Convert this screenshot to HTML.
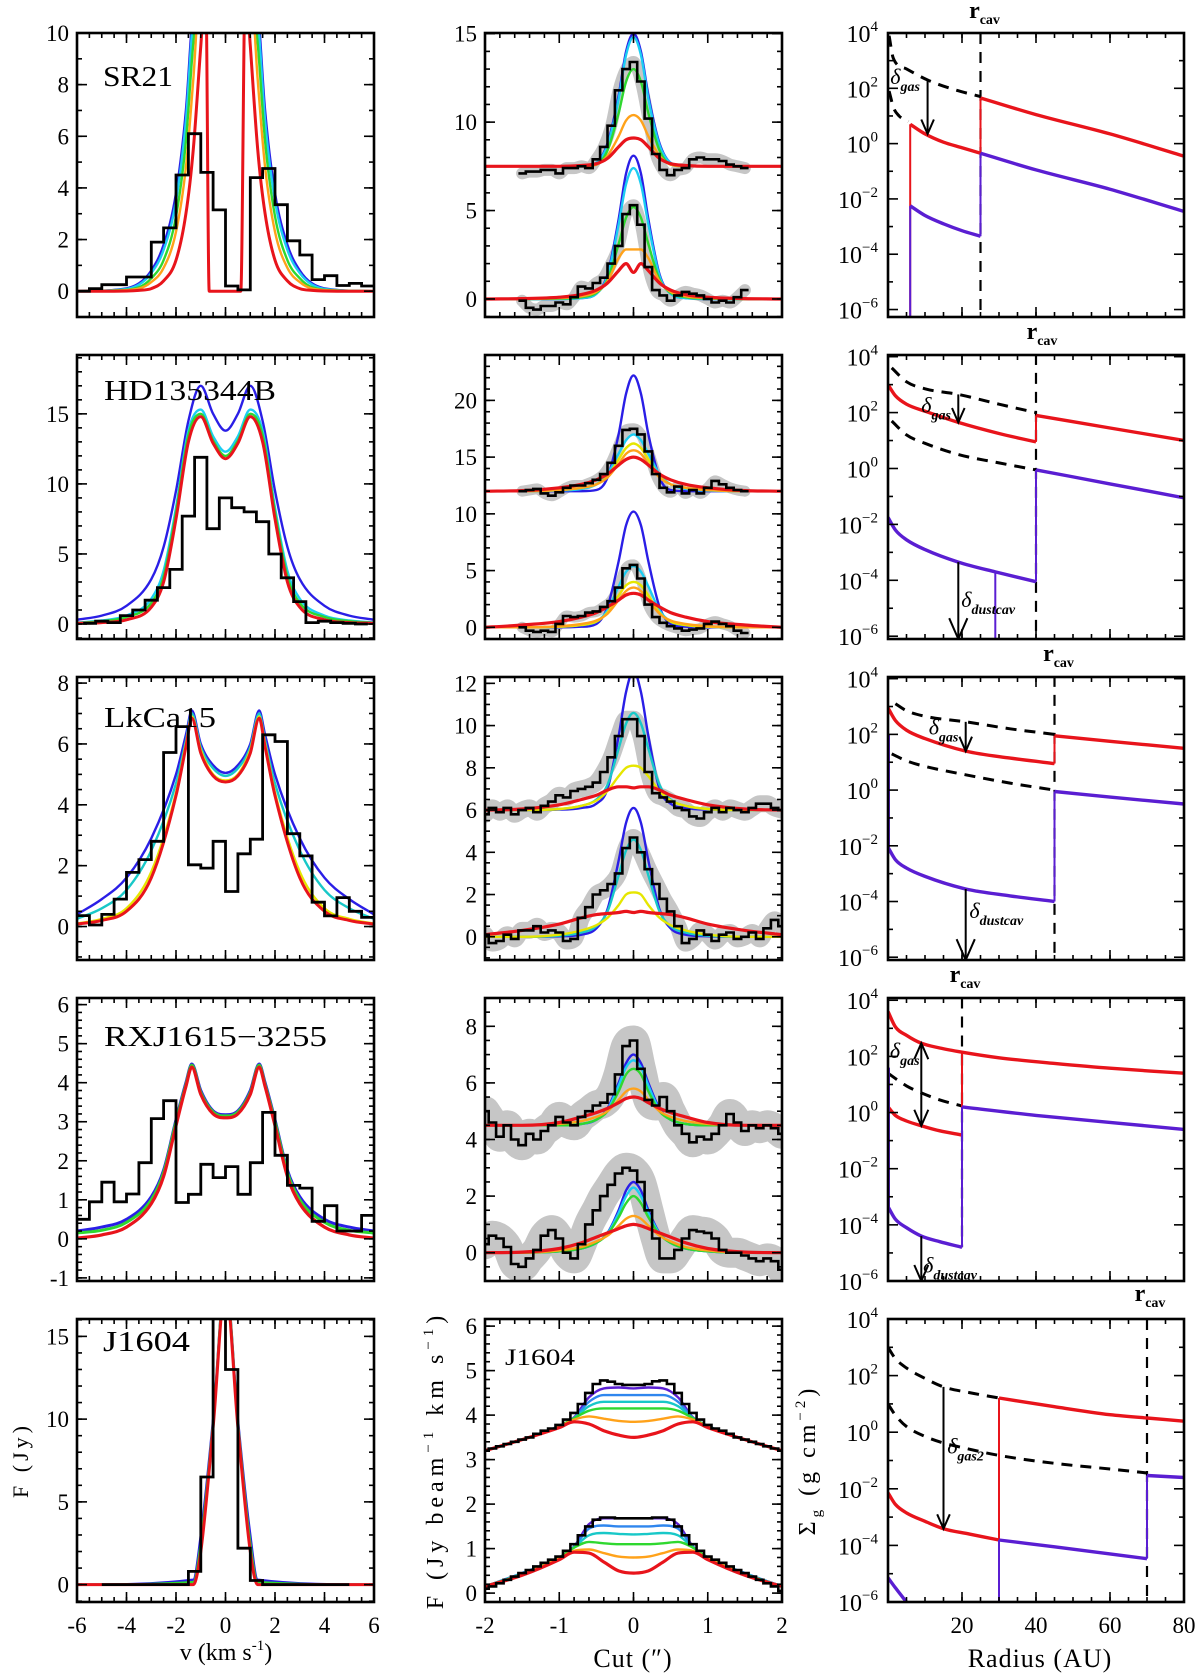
<!DOCTYPE html>
<html><head><meta charset="utf-8"><title>Disk models</title>
<style>
html,body{margin:0;padding:0;background:#fff;}
svg{display:block;font-family:"Liberation Serif",serif;}
</style></head>
<body>
<svg id="fig" width="1200" height="1677" viewBox="0 0 1200 1677" xmlns="http://www.w3.org/2000/svg"></svg>
<script>
// ---------------- DATA ----------------
// Column 1: spectra (velocity km/s vs flux Jy)
const sr21Bins = [-5.75,-5.25,-4.75,-4.25,-3.75,-3.25,-2.75,-2.25,-1.75,-1.25,-0.75,-0.25,0.25,0.75,1.25,1.75,2.25,2.75,3.25,3.75,4.25,4.75,5.25,5.75];
const sr21Obs = [0.0,0.1,0.25,0.25,0.55,0.55,1.9,2.45,4.5,6.1,4.6,3.15,0.2,0.05,4.4,4.75,3.35,1.95,1.4,0.45,0.6,0.22,0.3,0.2];
const sr21V = [-6,-4.5,-3.5,-3,-2.5,-2,-1.6,-1.3,-1,-0.8,-0.66,0,0.62,0.8,1,1.3,1.6,2,2.5,3,3.5,4.5,6];
const sr21Blue = [0,0.05,0.3,0.8,1.8,3.8,7,11,12,12,12,12,12,12,12,11,7,3.8,1.8,0.8,0.3,0.05,0];
const sr21Cyan = [0,0.04,0.25,0.7,1.6,3.5,6.6,10.6,12,12,12,12,12,12,12,10.6,6.6,3.5,1.6,0.7,0.25,0.04,0];
const sr21Green = [0,0.03,0.15,0.5,1.2,2.9,5.8,9.6,12,12,12,12,12,12,12,9.6,5.8,2.9,1.2,0.5,0.15,0.03,0];
const sr21Orange = [0,0.02,0.1,0.35,0.9,2.3,4.8,8.2,12,12,12,12,12,12,12,8.2,4.8,2.3,0.9,0.35,0.1,0.02,0];
const sr21Red = [0,0,0.03,0.1,0.4,1.2,3.0,5.5,9.5,12,0,0,0,12,9.5,5.5,3.0,1.2,0.4,0.1,0.03,0,0];

const hdBins = [-5.5,-5,-4.5,-4,-3.5,-3,-2.5,-2,-1.5,-1,-0.5,0,0.5,1,1.5,2,2.5,3,3.5,4,4.5,5,5.5];
const hdObs = [0.05,0.2,0.1,0.6,1.0,1.7,2.6,3.9,7.7,11.9,6.8,9.0,8.3,8.0,7.3,5.0,3.3,1.6,0.1,0.2,0.1,0.05,0.0];
const hdV = [-6,-5,-4,-3,-2.5,-2,-1.5,-1,-0.5,0,0.5,1,1.5,2,2.5,3,4,5,6];
const hdBlue = [0.3,0.6,1.3,3.2,5.5,9.5,14.5,17,15,13.8,15,17,14.5,9.5,5.5,3.2,1.3,0.6,0.3];
const hdCyan = [0.1,0.25,0.6,1.8,3.8,8.3,13.8,15.3,13.4,12.3,13.4,15.3,13.8,8.3,3.8,1.8,0.6,0.25,0.1];
const hdGreen = [0.08,0.2,0.5,1.5,3.4,8.0,13.5,15.0,13.1,12.0,13.1,15.0,13.5,8.0,3.4,1.5,0.5,0.2,0.08];
const hdRed = [0.05,0.1,0.3,1.2,3.0,7.5,13,14.8,12.9,11.8,12.9,14.8,13,7.5,3.0,1.2,0.3,0.1,0.05];

const lkBins = sr21Bins;
const lkObs = [0.36,0.05,0.4,0.9,1.78,2.2,2.8,5.72,6.57,2.03,1.92,2.8,1.15,2.39,2.87,6.3,6.08,3.05,2.32,0.8,0.35,0.95,0.5,0.3];
const lkV = [-6,-5,-4,-3,-2,-1.6,-1.36,-1,-0.5,0,0.5,1,1.36,1.6,2,3,4,5,6];
const lkBlue = [0.4,0.9,1.6,2.9,5.0,6.3,7.1,6.0,5.3,5.05,5.3,6.0,7.1,6.3,5.0,2.9,1.6,0.9,0.4];
const lkGreen = [0.25,0.6,1.2,2.5,4.7,6.1,7.0,5.9,5.2,4.95,5.2,5.9,7.0,6.1,4.7,2.5,1.2,0.6,0.25];
const lkYellow = [0.1,0.25,0.6,1.8,4.4,6.0,6.9,5.8,5.0,4.8,5.0,5.8,6.9,6.0,4.4,1.8,0.6,0.25,0.1];
const lkRed = [0.08,0.2,0.5,1.6,4.3,5.9,6.85,5.7,4.95,4.75,4.95,5.7,6.85,5.9,4.3,1.6,0.5,0.2,0.08];

const rxBins = sr21Bins;
const rxObs = [0.5,0.95,1.45,0.95,1.15,1.95,3.08,3.54,0.93,1.14,1.91,1.57,1.85,1.14,1.95,3.24,2.14,1.37,1.3,0.45,0.85,0.2,0.2,0.6];
const rxV = [-6,-5,-4,-3,-2.5,-2,-1.6,-1.36,-1,-0.5,0,0.5,1,1.36,1.6,2,2.5,3,4,5,6];
const rxBlue = [0.2,0.3,0.5,1.08,1.76,3.05,4.0,4.48,3.8,3.28,3.18,3.28,3.8,4.48,4.0,3.05,1.76,1.08,0.5,0.3,0.2];
const rxGreen = [0.15,0.22,0.42,1.0,1.7,3.0,3.95,4.45,3.75,3.25,3.15,3.25,3.75,4.45,3.95,3.0,1.7,1.0,0.42,0.22,0.15];
const rxRed = [0.02,0.1,0.3,0.9,1.6,2.9,3.9,4.4,3.7,3.2,3.1,3.2,3.7,4.4,3.9,2.9,1.6,0.9,0.3,0.1,0.02];

const jBins = [-4.75,-4.25,-3.75,-3.25,-2.75,-2.25,-1.75,-1.25,-0.75,-0.25,0.25,0.75,1.25,1.75,2.25,2.75,3.25,3.75,4.25,4.75];
const jObs = [0,0,0,0,0,0,0,0.8,6.5,17,13,2.2,0.25,0,0,0,0,0,0,0];
const jV = [-6,-1.3,-1,-0.5,0,0.5,1,1.3,6];
const jBlue = [0,0.3,3.0,10,18.5,10,3.0,0.3,0];
const jGreen = [0,0.15,2.5,9.8,18.5,9.8,2.5,0.15,0];
const jRed = [0,0,2.0,9.5,18,9.5,2.0,0,0];

// Column 2: cuts (offset arcsec vs flux)
const cutX = [-2,-1.5,-1,-0.7,-0.5,-0.35,-0.2,-0.1,0,0.1,0.2,0.35,0.5,0.7,1,1.5,2];
const obsX31 = [-1.5,-1.4,-1.3,-1.2,-1.1,-1,-0.9,-0.8,-0.7,-0.6,-0.5,-0.4,-0.3,-0.2,-0.1,0,0.1,0.2,0.3,0.4,0.5,0.6,0.7,0.8,0.9,1,1.1,1.2,1.3,1.4,1.5];
const obsX41 = [-2,-1.9,-1.8,-1.7,-1.6,-1.5,-1.4,-1.3,-1.2,-1.1,-1,-0.9,-0.8,-0.7,-0.6,-0.5,-0.4,-0.3,-0.2,-0.1,0,0.1,0.2,0.3,0.4,0.5,0.6,0.7,0.8,0.9,1,1.1,1.2,1.3,1.4,1.5,1.6,1.7,1.8,1.9,2];

const u1Obs = [7.1,7.2,7.2,7.3,7.3,7.1,7.4,7.4,7.5,7.4,7.9,8.6,9.8,11.8,13.0,13.4,12.3,10.2,8.2,7.3,7.0,7.3,7.4,7.9,8.0,7.9,7.9,7.8,7.6,7.5,7.4];
const l1Obs = [-0.1,-0.5,-0.6,-0.4,-0.4,-0.2,-0.3,0.1,0.7,0.6,0.9,1.2,2.0,3.0,4.8,5.3,4.2,1.8,0.5,0.2,-0.1,0.2,0.4,0.3,0.2,0.0,-0.2,-0.1,-0.2,0.1,0.5];
const u1Blue = [7.5,7.5,7.5,7.5,7.7,8.8,11.5,14.0,15.0,14.0,11.5,8.8,7.7,7.5,7.5,7.5,7.5];
const u1Cyan = [7.5,7.5,7.5,7.5,7.7,8.7,11.3,13.8,14.8,13.8,11.3,8.7,7.7,7.5,7.5,7.5,7.5];
const u1Green = [7.5,7.5,7.5,7.5,7.6,8.4,10.5,12.3,13.0,12.3,10.5,8.4,7.6,7.5,7.5,7.5,7.5];
const u1Orange = [7.5,7.5,7.5,7.5,7.6,8.1,9.2,10.1,10.4,10.1,9.2,8.1,7.6,7.5,7.5,7.5,7.5];
const u1Red = [7.5,7.5,7.5,7.55,7.65,7.95,8.6,9.0,9.1,9.0,8.6,7.95,7.65,7.55,7.5,7.5,7.5];
const l1Blue = [0,0,0,0.05,0.3,1.4,4.5,7.1,8.1,7.1,4.5,1.4,0.3,0.05,0,0,0];
const l1Cyan = [0,0,0,0.05,0.3,1.3,4.2,6.5,7.4,6.5,4.2,1.3,0.3,0.05,0,0,0];
const l1Green = [0,0,0.02,0.1,0.35,1.1,3.1,4.6,5.2,4.6,3.1,1.1,0.35,0.1,0.02,0,0];
const l1Orange = [0,0,0.05,0.15,0.4,1.0,2.3,2.8,2.8,2.8,2.3,1.0,0.4,0.15,0.05,0,0];
const l1Red = [0,0.02,0.1,0.25,0.5,0.9,1.6,2.0,1.5,2.0,1.6,0.9,0.5,0.25,0.1,0.02,0];

const u2Obs = [12.0,12.1,12.2,11.8,11.6,11.9,12.3,12.5,12.5,12.7,13.0,13.5,14.5,16.0,17.4,17.5,17.0,15.5,13.5,12.3,11.9,12.4,11.8,12.1,11.8,12.3,12.9,12.6,12.3,12.1,12.0];
const l2Obs = [0.0,-0.3,-0.4,-0.3,-0.4,0.3,1.0,0.9,1.0,1.3,1.4,1.8,2.3,3.5,5.2,5.5,4.3,2.0,0.9,0.4,0.1,-0.1,-0.3,-0.2,-0.1,0.3,0.5,0.3,0.1,-0.3,-0.5];
const u2Blue = [12,12,12,12,12.1,13.2,17,20.6,22.2,20.6,17,13.2,12.1,12,12,12,12];
const u2Cyan = [12,12,12.05,12.2,12.6,13.5,15.3,16.5,17.0,16.5,15.3,13.5,12.6,12.2,12.05,12,12];
const u2Green = [12,12,12.1,12.3,12.6,13.3,14.8,15.8,16.2,15.8,14.8,13.3,12.6,12.3,12.1,12,12];
const u2Orange = [12,12,12.1,12.3,12.6,13.2,14.4,15.3,15.6,15.3,14.4,13.2,12.6,12.3,12.1,12,12];
const u2Red = [12,12.05,12.3,12.6,13.0,13.5,14.3,14.8,15.0,14.8,14.3,13.5,13.0,12.6,12.3,12.05,12];
const l2Blue = [0,0,0,0.05,0.3,1.8,5.8,9.0,10.2,9.0,5.8,1.8,0.3,0.05,0,0,0];
const l2Cyan = [0,0,0.05,0.2,0.5,1.5,3.6,4.9,5.4,4.9,3.6,1.5,0.5,0.2,0.05,0,0];
const l2Green = [0,0,0.05,0.2,0.5,1.3,2.8,3.7,4.0,3.7,2.8,1.3,0.5,0.2,0.05,0,0];
const l2Orange = [0,0,0.1,0.3,0.6,1.2,2.4,3.2,3.5,3.2,2.4,1.2,0.6,0.3,0.1,0,0];
const l2Red = [0,0.2,0.5,0.9,1.3,1.8,2.4,2.85,3.0,2.85,2.4,1.8,1.3,0.9,0.5,0.2,0];

const u3Obs = [5.8,6.1,5.9,6.1,5.8,6.0,6.1,5.9,6.2,6.4,6.7,6.6,6.9,7.0,7.1,7.3,7.8,8.5,9.5,10.3,10.3,9.5,7.8,6.8,6.6,6.4,6.1,6.0,5.7,5.6,5.9,6.1,5.9,6.1,6.0,5.9,6.1,6.3,6.3,6.1,6.0];
const l3Obs = [0.1,-0.3,-0.2,0.1,-0.1,0.3,0.3,0.5,0.2,0.3,0.2,-0.2,-0.1,0.9,1.4,2.0,2.2,2.5,3.0,4.2,4.7,4.0,3.2,2.5,1.8,1.2,0.5,-0.3,-0.1,0.3,0.1,-0.2,0.1,0.2,-0.1,0.0,0.2,-0.1,0.4,0.8,0.5];
const u3Blue = [6,6,6.02,6.1,6.3,7.0,9.5,11.6,12.6,11.6,9.5,7.0,6.3,6.1,6.02,6,6];
const u3Green = [6,6,6.05,6.2,6.5,7.2,8.9,10.1,10.6,10.1,8.9,7.2,6.5,6.2,6.05,6,6];
const u3Yellow = [6,6,6.05,6.2,6.45,6.9,7.6,8.0,8.1,8.0,7.6,6.9,6.45,6.2,6.05,6,6];
const u3Red = [6.0,6.05,6.25,6.5,6.7,6.95,7.1,7.1,7.05,7.1,7.1,6.95,6.7,6.5,6.25,6.05,6.0];
const l3Blue = [0,0,0.02,0.1,0.4,1.3,3.6,5.4,6.1,5.4,3.6,1.3,0.4,0.1,0.02,0,0];
const l3Green = [0,0,0.05,0.2,0.5,1.2,2.9,4.1,4.6,4.1,2.9,1.2,0.5,0.2,0.05,0,0];
const l3Yellow = [0,0,0.1,0.3,0.55,0.9,1.5,2.0,2.1,2.0,1.5,0.9,0.55,0.3,0.1,0,0];
const l3Red = [0.1,0.3,0.6,0.9,1.05,1.1,1.15,1.2,1.15,1.2,1.15,1.1,1.05,0.9,0.6,0.3,0.1];

const u4Obs = [5.0,4.6,4.1,4.5,4.0,3.8,4.2,4.0,4.3,4.5,4.8,4.6,4.5,4.8,5.0,5.2,5.3,5.6,6.3,7.3,7.5,6.5,5.4,5.2,5.5,5.0,4.5,4.2,3.9,4.1,4.0,4.2,4.5,4.9,4.6,4.3,4.5,4.4,4.5,4.4,4.2];
const l4Obs = [0.3,0.6,0.5,0.2,-0.4,-0.5,-0.2,0.1,0.6,0.8,0.5,0.0,-0.2,0.3,1.0,1.5,2.0,2.4,2.8,3.0,2.9,2.5,1.5,0.5,-0.2,-0.2,0.1,0.5,0.8,0.75,0.7,0.5,0.1,0.0,0.0,-0.1,-0.2,-0.3,-0.2,-0.3,-0.6];
const u4Blue = [4.5,4.5,4.5,4.55,4.7,5.1,6.0,6.7,7.0,6.7,6.0,5.1,4.7,4.55,4.5,4.5,4.5];
const u4Cyan = [4.5,4.5,4.5,4.55,4.7,5.05,5.9,6.55,6.8,6.55,5.9,5.05,4.7,4.55,4.5,4.5,4.5];
const u4Green = [4.5,4.5,4.5,4.55,4.7,5.0,5.7,6.3,6.5,6.3,5.7,5.0,4.7,4.55,4.5,4.5,4.5];
const u4Orange = [4.5,4.5,4.55,4.65,4.8,5.0,5.4,5.7,5.8,5.7,5.4,5.0,4.8,4.65,4.55,4.5,4.5];
const u4Red = [4.5,4.5,4.6,4.8,4.95,5.1,5.3,5.45,5.5,5.45,5.3,5.1,4.95,4.8,4.6,4.5,4.5];
const l4Blue = [0,0,0.05,0.15,0.35,0.7,1.5,2.2,2.5,2.2,1.5,0.7,0.35,0.15,0.05,0,0];
const l4Cyan = [0,0,0.05,0.15,0.35,0.68,1.4,2.0,2.3,2.0,1.4,0.68,0.35,0.15,0.05,0,0];
const l4Green = [0,0,0.05,0.15,0.35,0.65,1.25,1.75,2.0,1.75,1.25,0.65,0.35,0.15,0.05,0,0];
const l4Orange = [0,0,0.08,0.2,0.4,0.6,0.95,1.2,1.3,1.2,0.95,0.6,0.4,0.2,0.08,0,0];
const l4Red = [0,0.02,0.15,0.35,0.55,0.7,0.85,0.95,1.0,0.95,0.85,0.7,0.55,0.35,0.15,0.02,0];

const cut5X = [-2,-1.5,-1,-0.8,-0.6,-0.4,-0.2,0,0.2,0.4,0.6,0.8,1,1.5,2];
const u5Obs = [3.2,3.25,3.3,3.35,3.4,3.45,3.5,3.58,3.65,3.7,3.78,3.9,4.05,4.25,4.5,4.7,4.78,4.75,4.7,4.68,4.68,4.68,4.7,4.76,4.78,4.7,4.5,4.25,4.05,3.9,3.78,3.7,3.65,3.58,3.5,3.45,3.4,3.35,3.3,3.25,3.2];
const l5Obs = [0.1,0.15,0.22,0.3,0.37,0.45,0.52,0.6,0.68,0.75,0.82,0.95,1.1,1.3,1.5,1.65,1.7,1.7,1.68,1.68,1.68,1.68,1.68,1.7,1.7,1.65,1.5,1.3,1.1,0.95,0.82,0.75,0.68,0.6,0.52,0.45,0.37,0.3,0.22,0.15,0.05];
const u5Purple = [3.2,3.45,3.76,3.95,4.4,4.6,4.62,4.6,4.62,4.6,4.4,3.95,3.76,3.45,3.2];
const u5Blue = [3.2,3.45,3.76,3.94,4.3,4.45,4.45,4.45,4.45,4.45,4.3,3.94,3.76,3.45,3.2];
const u5Cyan = [3.2,3.45,3.75,3.93,4.2,4.3,4.3,4.3,4.3,4.3,4.2,3.93,3.75,3.45,3.2];
const u5Green = [3.2,3.45,3.75,3.93,4.1,4.15,4.15,4.15,4.15,4.15,4.1,3.93,3.75,3.45,3.2];
const u5Orange = [3.2,3.45,3.74,3.9,3.97,3.92,3.87,3.85,3.87,3.92,3.97,3.9,3.74,3.45,3.2];
const u5Red = [3.2,3.45,3.72,3.85,3.8,3.65,3.55,3.5,3.55,3.65,3.8,3.85,3.72,3.45,3.2];
const l5Purple = [0.15,0.45,0.8,1.05,1.55,1.68,1.68,1.68,1.68,1.68,1.55,1.05,0.8,0.45,0.15];
const l5Blue = [0.15,0.45,0.8,1.04,1.45,1.52,1.5,1.5,1.5,1.52,1.45,1.04,0.8,0.45,0.15];
const l5Cyan = [0.15,0.44,0.8,1.03,1.3,1.35,1.33,1.32,1.33,1.35,1.3,1.03,0.8,0.44,0.15];
const l5Green = [0.15,0.43,0.8,1.02,1.15,1.12,1.1,1.1,1.1,1.12,1.15,1.02,0.8,0.43,0.15];
const l5Orange = [0.15,0.42,0.78,0.95,0.98,0.9,0.82,0.8,0.82,0.9,0.98,0.95,0.78,0.42,0.15];
const l5Red = [0.15,0.4,0.75,0.92,0.9,0.7,0.5,0.45,0.5,0.7,0.9,0.92,0.75,0.4,0.15];

// Column 3: surface density (radius AU vs log10 Sigma)
const sr21Rcav = 25;
const sr21DashR = [0.3,1.4,5,10.7,18,25];     const sr21DashS = [3.9,3.1,2.7,2.3,1.95,1.7];
const sr21Dash2R = [0.3,1.5,3,5.5];            const sr21Dash2S = [1.9,1.3,1.0,0.8];
const sr21RedInR = [6,10,15,20,25];            const sr21RedInS = [0.7,0.35,0.05,-0.15,-0.35];
const sr21RedOutR = [25,40,60,80];             const sr21RedOutS = [1.65,1.05,0.35,-0.45];
const sr21PurInR = [6,10,15,20,25];            const sr21PurInS = [-2.25,-2.6,-2.9,-3.15,-3.35];
const sr21PurOutR = [25,40,60,80];             const sr21PurOutS = [-0.35,-0.95,-1.65,-2.45];

const hdRcav = 40;
const hdRedInR = [0,2,5,10,19,30,40];          const hdRedInS = [3.0,2.6,2.3,2.05,1.65,1.25,0.95];
const hdRedOutR = [40,60,80];                  const hdRedOutS = [1.9,1.45,1.0];
const hdDashR = [1,5,10,19,30,40];             const hdDashS = [3.6,3.1,2.85,2.65,2.3,2.0];
const hdDash2R = [1,5,10,19,30,40];            const hdDash2S = [1.7,1.2,0.9,0.5,0.2,-0.05];
const hdPurOutR = [40,60,80];                  const hdPurOutS = [-0.05,-0.55,-1.05];
const hdPurInR = [0,2,5,10,19,29,40];          const hdPurInS = [-1.75,-2.2,-2.55,-2.9,-3.35,-3.7,-4.05];

const lkRcav = 45;
const lkRedInR = [0,2,5,10,21,33,45];          const lkRedInS = [2.95,2.5,2.15,1.85,1.4,1.15,0.95];
const lkRedOutR = [45,60,80];                  const lkRedOutS = [1.95,1.75,1.5];
const lkDashR = [2,5,10,21,33,45];             const lkDashS = [3.1,2.85,2.65,2.45,2.2,2.0];
const lkDash2R = [1,5,10,21,33,45];            const lkDash2S = [1.3,1.05,0.85,0.55,0.25,0.0];
const lkPurOutR = [45,60,80];                  const lkPurOutS = [-0.05,-0.25,-0.5];
const lkPurInR = [0,2,5,10,21,33,45];          const lkPurInS = [-2.05,-2.5,-2.8,-3.1,-3.55,-3.8,-4.0];

const rxRcav = 20;
const rxRedR = [0,2,5,9,14,20,30,45,60,80];    const rxRedS = [3.6,3.05,2.75,2.47,2.3,2.15,1.95,1.75,1.58,1.4];
const rxRed2R = [0,2,5,9,14,20];               const rxRed2S = [0.2,-0.1,-0.3,-0.47,-0.65,-0.8];
const rxPurOutR = [20,40,60,80];               const rxPurOutS = [0.2,-0.1,-0.35,-0.6];
const rxDashR = [0,5,9,14,20];                 const rxDashS = [1.4,0.95,0.7,0.45,0.23];
const rxPurInR = [0,2,5,9,14,20];              const rxPurInS = [-3.35,-3.8,-4.1,-4.4,-4.6,-4.8];

const jRcav = 70;  const jRin = 30;
const jDashR = [0,2,5,10,15,22,30];            const jDashS = [3.0,2.6,2.27,1.9,1.6,1.4,1.21];
const jRedOutR = [30,45,60,70,80];             const jRedOutS = [1.21,0.9,0.62,0.5,0.39];
const jDash2R = [0,2,5,10,15,22,30,45,60,70];  const jDash2S = [1.0,0.6,0.2,-0.15,-0.38,-0.6,-0.82,-1.1,-1.3,-1.44];
const jPurOutR = [70,80];                      const jPurOutS = [-1.53,-1.6];
const jRedInR = [0,2,5,10,15,22,30];           const jRedInS = [-2.14,-2.55,-2.85,-3.15,-3.41,-3.6,-3.81];
const jPurMidR = [30,45,60,70];                const jPurMidS = [-3.81,-4.05,-4.3,-4.47];
const jPurLowR = [0,2,5];                      const jPurLowS = [-5.14,-5.5,-6.0];

// ---------------- DRAWING ----------------
const NS = "http://www.w3.org/2000/svg";
const svg = document.getElementById('fig');
function mk(tag, attrs, parent){
  const e = document.createElementNS(NS, tag);
  for (const k in attrs) e.setAttribute(k, attrs[k]);
  (parent || svg).appendChild(e);
  return e;
}
const BL="#2a1ee6", CY="#1ccdf2", GR="#2fd82f", YE="#e6e600", OR="#ffa21a", RD="#e8141b", PU="#5a1ed2", LB="#2f86ee", TL="#18c8c8";
const COLS = [[77,374],[485,782],[888,1184]];
const ROWS = [[33,317],[355,639],[677,960],[998,1281],[1319,1602]];
let clipN = 0;
function panel(c, r, xr, yr, log, name){
  const p = {x0:COLS[c][0], x1:COLS[c][1], y0:ROWS[r][0], y1:ROWS[r][1], xmin:xr[0], xmax:xr[1], ymin:yr[0], ymax:yr[1], log:log};
  p.sx = v => p.x0 + (v - p.xmin) / (p.xmax - p.xmin) * (p.x1 - p.x0);
  p.sy = v => p.y1 - (v - p.ymin) / (p.ymax - p.ymin) * (p.y1 - p.y0);
  const id = 'clip' + (clipN++);
  const cp = mk('clipPath', {id:id});
  mk('rect', {x:p.x0, y:p.y0, width:p.x1-p.x0, height:p.y1-p.y0}, cp);
  p.g = mk('g', {'clip-path':'url(#'+id+')'});
  
  
  p.name = name;
  return p;
}
function monoPath(px, py){
  const n = px.length;
  if (n < 2) return '';
  const d = [], m = new Array(n);
  for (let k=0;k<n-1;k++) d.push((py[k+1]-py[k])/(px[k+1]-px[k]));
  m[0]=d[0]; m[n-1]=d[n-2];
  for (let k=1;k<n-1;k++) m[k] = (d[k-1]*d[k] <= 0) ? 0 : (d[k-1]+d[k])/2;
  for (let k=0;k<n-1;k++){
    if (d[k]===0){ m[k]=0; m[k+1]=0; continue; }
    const a=m[k]/d[k], b=m[k+1]/d[k], s=a*a+b*b;
    if (s>9){ const t=3/Math.sqrt(s); m[k]=t*a*d[k]; m[k+1]=t*b*d[k]; }
  }
  let s = 'M'+px[0].toFixed(1)+','+py[0].toFixed(1);
  for (let k=0;k<n-1;k++){
    const h = px[k+1]-px[k];
    s += ' C'+(px[k]+h/3).toFixed(1)+','+(py[k]+m[k]*h/3).toFixed(1)+' '+(px[k+1]-h/3).toFixed(1)+','+(py[k+1]-m[k+1]*h/3).toFixed(1)+' '+px[k+1].toFixed(1)+','+py[k+1].toFixed(1);
  }
  return s;
}
function curve(p, xs, ys, color, sw, name, dash){
  const e = mk('path', {d:monoPath(xs.map(p.sx), ys.map(p.sy)), fill:'none', stroke:color, 'stroke-width':sw, 'stroke-linejoin':'round'}, p.g);
  if (dash) e.setAttribute('stroke-dasharray', dash);
  
  
  return e;
}
function band(p, xs, ys, w, name){
  const e = mk('path', {d:monoPath(xs.map(p.sx), ys.map(p.sy)), fill:'none', stroke:'#c6c6c6', 'stroke-width':w, 'stroke-linejoin':'round', 'stroke-linecap':'round'}, p.g);
  
  
}
function steps(p, centers, vals, color, sw, name){
  const w = centers.length > 1 ? centers[1]-centers[0] : 0.5;
  let s = '';
  for (let i=0;i<centers.length;i++){
    const xa = p.sx(centers[i]-w/2), xb = p.sx(centers[i]+w/2), y = p.sy(vals[i]);
    s += (i===0 ? 'M' : 'L') + xa.toFixed(1)+','+y.toFixed(1)+' L'+xb.toFixed(1)+','+y.toFixed(1)+' ';
  }
  const e = mk('path', {d:s, fill:'none', stroke:color, 'stroke-width':sw, 'stroke-linejoin':'miter'}, p.g);
  
  
}
function vline(p, x, ya, yb, color, sw, name, dash){
  const e = mk('line', {x1:p.sx(x), x2:p.sx(x), y1:p.sy(ya), y2:p.sy(yb), stroke:color, 'stroke-width':sw}, p.g);
  if (dash) e.setAttribute('stroke-dasharray', dash);
  
  
}
function arrow(p, x, ya, yb, name, head, both){
  const g = mk('g', {stroke:'#000', 'stroke-width':2, fill:'none'}, p.g);
  
  
  const X = p.sx(x), A = p.sy(ya), B = p.sy(yb);
  mk('line', {x1:X, x2:X, y1:A, y2:B}, g);
  const h = head || 9, dir = B > A ? 1 : -1;
  mk('polyline', {points:(X-h*0.7)+','+(B-dir*h*1.6)+' '+X+','+B+' '+(X+h*0.7)+','+(B-dir*h*1.6)}, g);
  if (both) mk('polyline', {points:(X-h*0.7)+','+(A+dir*h*1.6)+' '+X+','+A+' '+(X+h*0.7)+','+(A+dir*h*1.6)}, g);
}
function txt(x, y, str, size, anchor, name, extra){
  const e = mk('text', Object.assign({x:x, y:y, 'font-size':size, 'text-anchor':anchor||'start', fill:'#000'}, extra||{}));
  e.textContent = str;
  
  
  return e;
}
function range(a, b, st){ const o=[]; for (let v=a; v<=b+1e-9; v+=st) o.push(Math.round(v*1000)/1000); return o; }
function axes(p, xMaj, xMin, yMaj, yMin, yLabels, xLabels){
  const g = mk('g', {stroke:'#000', 'stroke-width':1.6});
  
  
  const tick = (x1,y1,x2,y2) => mk('line', {x1:x1,y1:y1,x2:x2,y2:y2}, g);
  xMin.forEach(v => { const X=p.sx(v); tick(X,p.y1,X,p.y1-5); tick(X,p.y0,X,p.y0+5); });
  xMaj.forEach(v => { const X=p.sx(v); tick(X,p.y1,X,p.y1-10); tick(X,p.y0,X,p.y0+10); });
  yMin.forEach(v => { const Y=p.sy(v); tick(p.x0,Y,p.x0+5,Y); tick(p.x1,Y,p.x1-5,Y); });
  yMaj.forEach(v => { const Y=p.sy(v); tick(p.x0,Y,p.x0+10,Y); tick(p.x1,Y,p.x1-10,Y); });
  const f = mk('rect', {x:p.x0, y:p.y0, width:p.x1-p.x0, height:p.y1-p.y0, fill:'none', stroke:'#000', 'stroke-width':2.6});
  
  
  if (yLabels){
    yMaj.forEach(v => {
      if (p.log){
        const t = txt(p.x0-10, p.sy(v)+9, '10', 24, 'end', p.name+'-y-tick-label');
        const sup = mk('tspan', {'font-size':15, dy:-11}, t); sup.textContent = String(v).replace('-', '\u2212');
      } else {
        txt(p.x0-8, p.sy(v)+8, String(v), 23, 'end', p.name+'-y-tick-label', {transform:'', 'font-stretch':'condensed'});
      }
    });
  }
  if (xLabels){
    xLabels.forEach(v => txt(p.sx(v), 1633, String(v), 23, 'middle', p.name+'-x-tick-label'));
  }
}
function starName(x, y, s, w, name){
  txt(x, y, s, 28, 'start', name, {textLength:w, lengthAdjust:'spacingAndGlyphs'});
}

// ----- Column 1 -----
const c1x = [-6,6];
const c1xMaj = range(-6,6,2), c1xMin = range(-6,6,0.5);
let p;
p = panel(0,0,c1x,[-1,10],false,'sr21-spectrum');
[[sr21Blue,BL],[sr21Cyan,CY],[sr21Green,GR],[sr21Orange,OR],[sr21Red,RD]].forEach((s,i)=>curve(p, sr21V, s[0], s[1], i===4?3:2.4, 'sr21-model-'+i));
steps(p, sr21Bins, sr21Obs, '#000', 2.8, 'sr21-observed-spectrum');
axes(p, c1xMaj, c1xMin, range(0,10,2), range(-1,10,1), true, null);
starName(103, 86, 'SR21', 70, 'sr21-label');

p = panel(0,1,c1x,[-1.07,19.2],false,'hd135344b-spectrum');
[[hdBlue,BL],[hdCyan,CY],[hdGreen,GR],[hdRed,RD]].forEach((s,i)=>curve(p, hdV, s[0], s[1], i===3?3:2.4, 'hd135344b-model-'+i));
steps(p, hdBins, hdObs, '#000', 2.8, 'hd135344b-observed-spectrum');
axes(p, c1xMaj, c1xMin, range(0,15,5), range(-1,19,1), true, null);
starName(104, 400, 'HD135344B', 172, 'hd135344b-label');

p = panel(0,2,c1x,[-1.1,8.2],false,'lkca15-spectrum');
[[lkBlue,BL],[lkGreen,TL],[lkYellow,YE],[lkRed,RD]].forEach((s,i)=>curve(p, lkV, s[0], s[1], i===3?3:2.4, 'lkca15-model-'+i));
steps(p, lkBins, lkObs, '#000', 2.8, 'lkca15-observed-spectrum');
axes(p, c1xMaj, c1xMin, range(0,8,2), range(-1,8,0.5), true, null);
starName(104, 727, 'LkCa15', 112, 'lkca15-label');

p = panel(0,3,c1x,[-1.08,6.17],false,'rxj1615-spectrum');
[[rxBlue,BL],[rxGreen,GR],[rxRed,RD]].forEach((s,i)=>curve(p, rxV, s[0], s[1], i===2?3.2:3, 'rxj1615-model-'+i));
steps(p, rxBins, rxObs, '#000', 2.8, 'rxj1615-observed-spectrum');
axes(p, c1xMaj, c1xMin, range(-1,6,1), range(-1,6,0.2), true, null);
starName(104, 1046, 'RXJ1615\u22123255', 223, 'rxj1615-label');

p = panel(0,4,c1x,[-1.05,16.05],false,'j1604-spectrum');
[[jBlue,BL],[jGreen,GR],[jRed,RD]].forEach((s,i)=>curve(p, jV, s[0], s[1], i===2?3:2.4, 'j1604-model-'+i));
steps(p, jBins, jObs, '#000', 2.8, 'j1604-observed-spectrum');
axes(p, c1xMaj, c1xMin, range(0,15,5), range(-1,16,1), true, c1xMaj);
starName(103, 1351, 'J1604', 87, 'j1604-label');

// ----- Column 2 -----
const c2x = [-2,2];
const c2xMaj = range(-2,2,1), c2xMin = range(-2,2,0.2);
function cutPanel(row, yr, name, bw, obsX, upObs, loObs, upModels, loModels, gx, yMaj, yMin, xLab){
  const q = panel(1,row,c2x,yr,false,name);
  if (bw){ band(q, obsX, upObs, bw, name+'-upper-uncertainty'); band(q, obsX, loObs, bw, name+'-lower-uncertainty'); }
  upModels.forEach((s,i)=>curve(q, gx, s[0], s[1], s[1]===RD?3.2:2.4, name+'-upper-model-'+i));
  loModels.forEach((s,i)=>curve(q, gx, s[0], s[1], s[1]===RD?3.2:2.4, name+'-lower-model-'+i));
  steps(q, obsX, upObs, '#000', 2.6, name+'-upper-observed');
  steps(q, obsX, loObs, '#000', 2.6, name+'-lower-observed');
  axes(q, c2xMaj, c2xMin, yMaj, yMin, true, xLab);
  return q;
}
cutPanel(0,[-1.02,15.04],'sr21-cut',12,obsX31,u1Obs,l1Obs,
  [[u1Blue,BL],[u1Cyan,CY],[u1Green,GR],[u1Orange,OR],[u1Red,RD]],
  [[l1Blue,BL],[l1Cyan,CY],[l1Green,GR],[l1Orange,OR],[l1Red,RD]], cutX, range(0,15,5), range(-1,15,1), null);
cutPanel(1,[-1.03,24],'hd135344b-cut',11,obsX31,u2Obs,l2Obs,
  [[u2Blue,BL],[u2Cyan,CY],[u2Green,YE],[u2Orange,OR],[u2Red,RD]],
  [[l2Blue,BL],[l2Cyan,CY],[l2Green,YE],[l2Orange,OR],[l2Red,RD]], cutX, range(0,20,5), range(-1,24,1), null);
cutPanel(2,[-1.1,12.3],'lkca15-cut',17,obsX41,u3Obs,l3Obs,
  [[u3Blue,BL],[u3Green,TL],[u3Yellow,YE],[u3Red,RD]],
  [[l3Blue,BL],[l3Green,TL],[l3Yellow,YE],[l3Red,RD]], cutX, range(0,12,2), range(-1,12,0.5), null);
cutPanel(3,[-1.0,9.0],'rxj1615-cut',30,obsX41,u4Obs,l4Obs,
  [[u4Blue,BL],[u4Cyan,CY],[u4Green,GR],[u4Orange,OR],[u4Red,RD]],
  [[l4Blue,BL],[l4Cyan,CY],[l4Green,GR],[l4Orange,OR],[l4Red,RD]], cutX, range(0,8,2), range(-1,9,0.5), null);
cutPanel(4,[-0.2,6.16],'j1604-cut',0,obsX41,u5Obs,l5Obs,
  [[u5Purple,PU],[u5Blue,LB],[u5Cyan,TL],[u5Green,GR],[u5Orange,OR],[u5Red,RD]],
  [[l5Purple,PU],[l5Blue,LB],[l5Cyan,TL],[l5Green,GR],[l5Orange,OR],[l5Red,RD]], cut5X, range(0,6,1), range(0,6,0.2), c2xMaj);
txt(505, 1365, 'J1604', 23, 'start', 'j1604-cut-label', {textLength:70, lengthAdjust:'spacingAndGlyphs'});

// ----- Column 3 -----
const c3x = [0,80];
const c3xMaj = range(20,80,20), c3xMin = range(0,80,5);
const c3yMaj = [4,2,0,-2,-4,-6], c3yMin = [3,1,-1,-3,-5];
const DS = '11,8';
function gasLabel(q, r, s, sub, name){
  const t = txt(q.sx(r), q.sy(s), '\u03b4', 22, 'start', name, {'font-style':'italic'});
  const ts = mk('tspan', {'font-size':14, dy:7, 'font-weight':'bold'}, t); ts.textContent = sub;
}
function rcavLabel(x, y, name){
  const t = txt(x, y, 'r', 24, 'middle', name, {'font-weight':'bold'});
  const ts = mk('tspan', {'font-size':14, dy:6}, t); ts.textContent = 'cav';
}
const LW = 3.4;
// SR21
p = panel(2,0,c3x,[-6.27,4],true,'sr21-density');
vline(p, sr21Rcav, 4, -6.3, '#000', 2.2, 'sr21-rcav-line', DS);
curve(p, sr21DashR, sr21DashS, '#000', 3, 'sr21-gas-reference', DS);
curve(p, sr21Dash2R, sr21Dash2S, '#000', 3, 'sr21-gas-reference-inner', DS);
vline(p, 6, -6.3, sr21RedInS[0], RD, 2, 'sr21-gas-inner-edge');
curve(p, sr21RedInR, sr21RedInS, RD, LW, 'sr21-gas-inner');
curve(p, sr21RedOutR, sr21RedOutS, RD, LW, 'sr21-gas-outer');
vline(p, sr21Rcav, sr21RedInS[4], sr21RedOutS[0], RD, 2, 'sr21-gas-step');
vline(p, 6, -6.3, sr21PurInS[0], PU, 2, 'sr21-dust-inner-edge');
curve(p, sr21PurInR, sr21PurInS, PU, LW, 'sr21-dust-inner');
curve(p, sr21PurOutR, sr21PurOutS, PU, LW, 'sr21-dust-outer');
vline(p, sr21Rcav, sr21PurInS[4], sr21PurOutS[0], PU, 2, 'sr21-dust-step');
arrow(p, 10.7, 2.3, 0.35, 'sr21-delta-gas-arrow');
gasLabel(p, 0.6, 2.15, 'gas', 'sr21-delta-gas-label');
axes(p, c3xMaj, c3xMin, c3yMaj, c3yMin, true, null);
rcavLabel(p.sx(sr21Rcav)+4, 18, 'sr21-rcav-label');

// HD135344B
p = panel(2,1,c3x,[-6.1,4.06],true,'hd135344b-density');
vline(p, hdRcav, 4.1, -6.2, '#000', 2.2, 'hd135344b-rcav-line', DS);
curve(p, hdDashR, hdDashS, '#000', 3, 'hd135344b-gas-reference', DS);
curve(p, hdDash2R, hdDash2S, '#000', 3, 'hd135344b-dust-reference', DS);
curve(p, hdRedInR, hdRedInS, RD, LW, 'hd135344b-gas-inner');
curve(p, hdRedOutR, hdRedOutS, RD, LW, 'hd135344b-gas-outer');
vline(p, hdRcav, hdRedInS[6], hdRedOutS[0], RD, 2, 'hd135344b-gas-step');
curve(p, hdPurInR, hdPurInS, PU, LW, 'hd135344b-dust-inner');
curve(p, hdPurOutR, hdPurOutS, PU, LW, 'hd135344b-dust-outer');
vline(p, hdRcav, hdPurInS[6], hdPurOutS[0], PU, 2, 'hd135344b-dust-step');
vline(p, 29, -6.2, hdPurInS[5], PU, 2, 'hd135344b-dust-gap-edge');
arrow(p, 19, 2.65, 1.65, 'hd135344b-delta-gas-arrow');
arrow(p, 19, -3.35, -6.1, 'hd135344b-delta-dustcav-arrow', 13);
gasLabel(p, 9, 2.0, 'gas', 'hd135344b-delta-gas-label');
gasLabel(p, 19.8, -4.95, 'dustcav', 'hd135344b-delta-dustcav-label');
axes(p, c3xMaj, c3xMin, c3yMaj, c3yMin, true, null);
rcavLabel(p.sx(sr21Rcav)+6 + (p.sx(hdRcav)-p.sx(sr21Rcav)), 339, 'hd135344b-rcav-label');

// LkCa15
p = panel(2,2,c3x,[-6.1,4.06],true,'lkca15-density');
vline(p, lkRcav, 4.1, -6.2, '#000', 2.2, 'lkca15-rcav-line', DS);
curve(p, lkDashR, lkDashS, '#000', 3, 'lkca15-gas-reference', DS);
curve(p, lkDash2R, lkDash2S, '#000', 3, 'lkca15-dust-reference', DS);
curve(p, lkRedInR, lkRedInS, RD, LW, 'lkca15-gas-inner');
curve(p, lkRedOutR, lkRedOutS, RD, LW, 'lkca15-gas-outer');
vline(p, lkRcav, lkRedInS[6], lkRedOutS[0], RD, 2, 'lkca15-gas-step');
vline(p, 0.2, lkPurInS[0], 2.0, PU, 2.5, 'lkca15-dust-inner-edge');
curve(p, lkPurInR, lkPurInS, PU, LW, 'lkca15-dust-inner');
curve(p, lkPurOutR, lkPurOutS, PU, LW, 'lkca15-dust-outer');
vline(p, lkRcav, lkPurInS[6], lkPurOutS[0], PU, 2, 'lkca15-dust-step');
arrow(p, 21, 2.45, 1.4, 'lkca15-delta-gas-arrow');
arrow(p, 21, -3.55, -6.1, 'lkca15-delta-dustcav-arrow', 13);
gasLabel(p, 11, 2.0, 'gas', 'lkca15-delta-gas-label');
gasLabel(p, 22, -4.6, 'dustcav', 'lkca15-delta-dustcav-label');
axes(p, c3xMaj, c3xMin, c3yMaj, c3yMin, true, null);
rcavLabel(p.sx(lkRcav)+4, 661, 'lkca15-rcav-label');

// RXJ1615
p = panel(2,3,c3x,[-6.0,4.08],true,'rxj1615-density');
vline(p, rxRcav, 4.1, -4.8, '#000', 2.2, 'rxj1615-rcav-line', DS);
curve(p, rxDashR, rxDashS, '#000', 3, 'rxj1615-gas-reference', DS);
curve(p, rxRedR, rxRedS, RD, LW, 'rxj1615-gas');
curve(p, rxRed2R, rxRed2S, RD, LW, 'rxj1615-gas-depleted');
vline(p, rxRcav, rxRed2S[5], rxRedS[5], RD, 2, 'rxj1615-gas-step');
vline(p, 0.2, rxPurInS[0], 1.6, PU, 2.5, 'rxj1615-dust-inner-edge');
curve(p, rxPurInR, rxPurInS, PU, LW, 'rxj1615-dust-inner');
curve(p, rxPurOutR, rxPurOutS, PU, LW, 'rxj1615-dust-outer');
vline(p, rxRcav, rxPurInS[5], rxPurOutS[0], PU, 2, 'rxj1615-dust-step');
arrow(p, 9, -0.47, 2.47, 'rxj1615-delta-gas-arrow', 10, true);
arrow(p, 9, -4.4, -6.0, 'rxj1615-delta-dustcav-arrow', 10);
gasLabel(p, 0.5, 1.95, 'gas', 'rxj1615-delta-gas-label');
gasLabel(p, 9.5, -5.7, 'dustcav', 'rxj1615-delta-dustcav-label');
axes(p, c3xMaj, c3xMin, c3yMaj, c3yMin, true, null);
rcavLabel(p.sx(rxRcav)+3, 982, 'rxj1615-rcav-label');

// J1604
p = panel(2,4,c3x,[-6,4],true,'j1604-density');
vline(p, jRcav, 4, -6, '#000', 2.2, 'j1604-rcav-line', DS);
curve(p, jDashR, jDashS, '#000', 3, 'j1604-gas-reference', DS);
curve(p, jDash2R, jDash2S, '#000', 3, 'j1604-dust-reference', DS);
curve(p, jRedOutR, jRedOutS, RD, LW, 'j1604-gas-outer');
curve(p, jRedInR, jRedInS, RD, LW, 'j1604-gas-inner');
vline(p, jRin, jRedInS[6], jRedOutS[0], RD, 2, 'j1604-gas-step');
vline(p, jRin, -6, jRedInS[6], PU, 2, 'j1604-dust-gap-edge');
curve(p, jPurMidR, jPurMidS, PU, LW, 'j1604-dust-mid');
curve(p, jPurOutR, jPurOutS, PU, LW, 'j1604-dust-outer');
curve(p, jPurLowR, jPurLowS, PU, LW, 'j1604-dust-inner');
vline(p, jRcav, jPurMidS[3], jPurOutS[0], PU, 2, 'j1604-dust-step');
arrow(p, 15, 1.6, -3.41, 'j1604-delta-gas2-arrow');
gasLabel(p, 16, -0.75, 'gas2', 'j1604-delta-gas2-label');
axes(p, c3xMaj, c3xMin, c3yMaj, c3yMin, true, c3xMaj);
rcavLabel(p.sx(jRcav)+3, 1301, 'j1604-rcav-label');

// ----- Axis titles -----
txt(226, 1660, 'v (km s', 24, 'middle', 'x-axis-title-velocity').innerHTML = 'v (km s<tspan font-size="15" dy="-10">-1</tspan><tspan dy="10">)</tspan>';
txt(633, 1667, 'Cut (\u2033)', 26, 'middle', 'x-axis-title-cut', {'letter-spacing':'1'});
txt(1040, 1667, 'Radius (AU)', 26, 'middle', 'x-axis-title-radius', {'letter-spacing':'1'});
const t1 = txt(0, 0, 'F (Jy)', 22, 'middle', 'y-axis-title-flux', {transform:'translate(28,1460) rotate(-90)', 'letter-spacing':'4'});
const t2 = txt(0, 0, '', 24, 'middle', 'y-axis-title-intensity', {transform:'translate(443,1460) rotate(-90)', 'letter-spacing':'5'});
t2.innerHTML = 'F (Jy beam<tspan font-size="15" dy="-10">\u22121</tspan><tspan dy="10"> km s</tspan><tspan font-size="15" dy="-10">\u22121</tspan><tspan dy="10">)</tspan>';
const t3 = txt(0, 0, '', 24, 'middle', 'y-axis-title-surface-density', {transform:'translate(815,1460) rotate(-90)', 'letter-spacing':'4'});
t3.innerHTML = '\u03a3<tspan font-size="15" dy="6">g</tspan><tspan dy="-6"> (g cm</tspan><tspan font-size="15" dy="-10">\u22122</tspan><tspan dy="10">)</tspan>';
</script>
</body></html>
